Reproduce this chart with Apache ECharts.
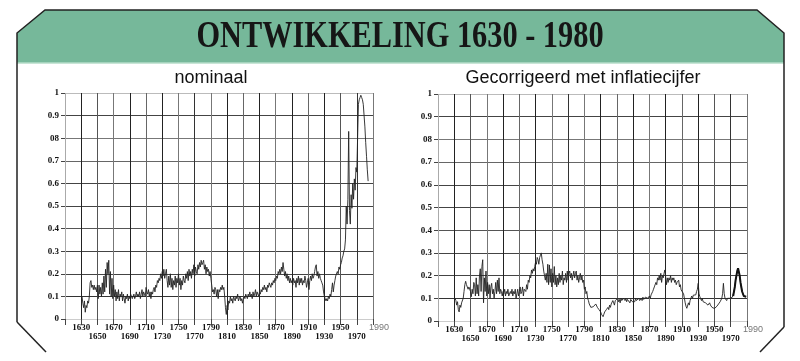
<!DOCTYPE html>
<html><head><meta charset="utf-8">
<script src="https://cdn.jsdelivr.net/npm/echarts@6/dist/echarts.min.js"></script>
<style>html,body{margin:0;padding:0;background:#fff}#c{width:800px;height:361px}</style>
</head><body><div id="c"></div>
<script>
// ---- data ----
const titleText = 'ONTWIKKELING 1630 - 1980';
const subLeft = 'nominaal';
const subRight = 'Gecorrigeerd met inflatiecijfer';
const yLabels = ['0','0.1','0.2','0.3','0.4','0.5','0.6','0.7','08','0.9','1'];
const xUpperLabels = [1630,1670,1710,1750,1790,1830,1870,1910,1950];
const xLowerLabels = [1650,1690,1730,1770,1810,1850,1890,1930,1970];
const xEndLabel = 1990;

const nomStart = 1631;
const nomValues = [
0.10,0.07,0.05,0.08,0.03,0.06,0.05,0.08,0.07,0.10,
0.16,0.17,0.14,0.15,0.13,0.15,0.13,0.14,0.12,0.15,
0.09,0.15,0.11,0.14,0.10,0.16,0.11,0.19,0.12,0.22,
0.14,0.25,0.20,0.26,0.11,0.21,0.10,0.18,0.09,0.15,
0.10,0.13,0.08,0.12,0.09,0.13,0.08,0.11,0.10,0.12,
0.08,0.11,0.09,0.07,0.10,0.09,0.11,0.08,0.10,0.09,
0.11,0.10,0.09,0.10,0.11,0.09,0.10,0.12,0.10,0.11,
0.10,0.12,0.09,0.11,0.13,0.10,0.12,0.11,0.10,0.14,
0.12,0.11,0.13,0.10,0.12,0.09,0.12,0.11,0.13,0.14,
0.12,0.15,0.14,0.17,0.16,0.18,0.17,0.20,0.18,0.21,
0.19,0.22,0.18,0.20,0.22,0.17,0.14,0.19,0.15,0.20,
0.14,0.18,0.13,0.17,0.15,0.19,0.14,0.18,0.16,0.20,
0.15,0.18,0.13,0.17,0.15,0.19,0.17,0.16,0.20,0.18,
0.21,0.17,0.22,0.19,0.21,0.18,0.22,0.20,0.24,0.19,
0.23,0.21,0.20,0.24,0.22,0.25,0.23,0.26,0.24,0.25,
0.26,0.22,0.24,0.20,0.23,0.21,0.22,0.19,0.21,0.18,
0.15,0.12,0.13,0.11,0.14,0.13,0.10,0.13,0.09,0.13,
0.12,0.14,0.13,0.15,0.13,0.14,0.10,0.05,0.02,0.06,
0.04,0.08,0.07,0.10,0.08,0.09,0.07,0.10,0.09,0.08,
0.10,0.09,0.11,0.08,0.09,0.10,0.08,0.09,0.07,0.09,
0.10,0.09,0.11,0.10,0.09,0.11,0.10,0.12,0.10,0.11,
0.09,0.12,0.10,0.11,0.13,0.10,0.12,0.11,0.10,0.12,
0.11,0.13,0.12,0.14,0.13,0.15,0.13,0.14,0.12,0.15,
0.14,0.16,0.15,0.14,0.16,0.15,0.17,0.16,0.18,0.17,
0.19,0.18,0.21,0.20,0.22,0.20,0.23,0.21,0.25,0.22,
0.19,0.21,0.18,0.20,0.17,0.19,0.16,0.18,0.16,0.17,
0.15,0.18,0.16,0.17,0.14,0.18,0.16,0.19,0.15,0.18,
0.16,0.18,0.15,0.17,0.16,0.19,0.17,0.14,0.16,0.18,
0.13,0.17,0.19,0.17,0.20,0.18,0.19,0.21,0.23,0.24,
0.19,0.21,0.18,0.20,0.18,0.17,0.16,0.15,0.12,0.10,
0.09,0.08,0.09,0.08,0.10,0.09,0.11,0.10,0.13,0.16,
0.12,0.15,0.17,0.19,0.19,0.21,0.20,0.23,0.22,0.24,
0.25,0.27,0.28,0.30,0.31,0.35,0.50,0.42,0.53,0.83,
0.48,0.42,0.55,0.49,0.60,0.53,0.62,0.57,0.67,0.65,
0.80,0.95,0.97,0.98,0.99,0.98,0.97,0.95,0.90,0.85,
0.78,0.72,0.66,0.61
];

const realStart = 1631;
const realValues = [
0.10,0.09,0.07,0.085,0.05,0.04,0.07,0.06,0.08,0.078,
0.10,0.13,0.16,0.175,0.16,0.15,0.14,0.15,0.144,0.13,
0.107,0.14,0.12,0.17,0.16,0.11,0.19,0.12,0.16,0.11,
0.20,0.23,0.13,0.24,0.27,0.08,0.19,0.13,0.22,0.11,
0.17,0.12,0.16,0.10,0.15,0.166,0.12,0.14,0.10,0.13,
0.17,0.12,0.18,0.13,0.19,0.12,0.14,0.13,0.11,0.13,
0.12,0.14,0.11,0.13,0.12,0.14,0.11,0.107,0.13,0.12,
0.14,0.11,0.13,0.12,0.14,0.10,0.12,0.14,0.11,0.13,
0.15,0.12,0.13,0.15,0.11,0.14,0.144,0.13,0.16,0.14,
0.18,0.17,0.20,0.19,0.225,0.21,0.23,0.22,0.24,0.26,
0.25,0.28,0.27,0.25,0.28,0.29,0.30,0.27,0.25,0.22,
0.20,0.18,0.21,0.17,0.25,0.16,0.247,0.17,0.23,0.15,
0.21,0.17,0.24,0.16,0.20,0.15,0.19,0.16,0.21,0.17,
0.20,0.18,0.22,0.16,0.19,0.18,0.21,0.17,0.22,0.18,
0.21,0.22,0.19,0.21,0.18,0.20,0.22,0.19,0.21,0.22,
0.18,0.20,0.17,0.19,0.21,0.18,0.20,0.17,0.18,0.14,
0.15,0.12,0.13,0.10,0.09,0.075,0.07,0.06,0.065,0.06,
0.063,0.07,0.06,0.075,0.07,0.06,0.065,0.05,0.056,0.04,
0.03,0.025,0.019,0.03,0.04,0.035,0.05,0.045,0.06,0.05,
0.07,0.06,0.075,0.07,0.09,0.08,0.07,0.09,0.085,0.09,
0.10,0.085,0.095,0.08,0.10,0.09,0.085,0.10,0.095,0.09,
0.10,0.085,0.095,0.09,0.10,0.08,0.095,0.09,0.085,0.09,
0.08,0.085,0.10,0.09,0.095,0.085,0.10,0.09,0.095,0.10,
0.09,0.105,0.095,0.10,0.105,0.10,0.11,0.10,0.105,0.11,
0.10,0.115,0.12,0.13,0.14,0.15,0.144,0.17,0.16,0.19,
0.18,0.20,0.18,0.21,0.17,0.20,0.19,0.21,0.225,0.23,
0.16,0.19,0.17,0.19,0.18,0.20,0.17,0.19,0.18,0.19,
0.17,0.18,0.16,0.17,0.166,0.18,0.15,0.16,0.137,0.144,
0.13,0.12,0.10,0.08,0.065,0.056,0.063,0.08,0.07,0.09,
0.10,0.11,0.10,0.114,0.11,0.12,0.115,0.13,0.14,0.166,
0.12,0.107,0.10,0.09,0.10,0.085,0.09,0.085,0.08,0.078,
0.085,0.07,0.075,0.08,0.07,0.065,0.06,0.056,0.06,0.055,
0.062,0.056,0.065,0.07,0.075,0.07,0.085,0.09,0.10,0.12,
0.166,0.12,0.10,0.095,0.09,0.10,0.095,0.10,0.10,0.105,
0.10,0.105,0.11,0.13,0.15,0.18,0.20,0.22,0.232,0.225,
0.20,0.17,0.15,0.13,0.12,0.11,0.115,0.105,0.107
];
const realThickFrom = 1973;

// ---- build ----
const toPairs = (start, vals) => vals.map((v, i) => [start + i, v]);
const nomData = toPairs(nomStart, nomValues);
const realData = toPairs(realStart, realValues);
const realThick = realData.filter(p => p[0] >= realThickFrom);

const vColors = ['#aaa','#222','#555','#777','#222','#666','#222','#777','#333','#777','#222','#666','#222','#777','#222','#666','#222','#555','#333','#777'];
const hColors = ['#ccc','#333','#444','#444','#555','#444','#444','#666','#777','#444','#bbb'];
const serif = '"Liberation Serif", "Times New Roman", serif';
const sans = '"Liberation Sans", Arial, sans-serif';

function xAxes(grid, upper) {
  const base = {
    type: 'value', gridIndex: grid, position: 'bottom', min: 1610, max: 1990, interval: 20,
    axisLine: { show: false }
  };
  if (upper) {
    return Object.assign({}, base, {
      axisTick: { show: true, length: 6, lineStyle: { color: '#444' } },
      splitLine: { show: true, lineStyle: { color: vColors, width: 1 } },
      axisLabel: {
        show: true, margin: 4, fontFamily: serif, fontWeight: 'bold', fontSize: 9, color: '#111',
        showMinLabel: true, showMaxLabel: true,
        formatter: v => v === xEndLabel ? '{g|' + v + '}' : (xUpperLabels.indexOf(v) >= 0 ? String(v) : ''),
        rich: { g: { fontFamily: sans, fontWeight: 'normal', fontSize: 9, color: '#777', padding: [0, 0, 0, 12] } }
      }
    });
  }
  return Object.assign({}, base, {
    axisTick: { show: false }, splitLine: { show: false },
    axisLabel: {
      show: true, margin: 13, fontFamily: serif, fontWeight: 'bold', fontSize: 9, color: '#111',
      formatter: v => xLowerLabels.indexOf(v) >= 0 ? String(v) : ''
    }
  });
}
function yAxis(grid) {
  return {
    type: 'value', gridIndex: grid, min: 0, max: 1, interval: 0.1,
    axisLine: { show: false },
    axisTick: { show: true, length: 4, lineStyle: { color: '#444' } },
    splitLine: { show: true, lineStyle: { color: hColors, width: 1 } },
    axisLabel: {
      margin: 6, fontFamily: serif, fontWeight: 'bold', fontSize: 9, color: '#111',
      formatter: v => yLabels[Math.round(v * 10)]
    }
  };
}

const chart = echarts.init(document.getElementById('c'), null, { renderer: 'canvas' });
chart.setOption({
  backgroundColor: '#fff',
  animation: false,
  grid: [
    { left: 65, right: 427, top: 93, bottom: 42 },
    { left: 438, right: 53, top: 94, bottom: 40 }
  ],
  xAxis: [xAxes(0, true), xAxes(0, false), xAxes(1, true), xAxes(1, false)],
  yAxis: [yAxis(0), yAxis(1)],
  series: [
    { type: 'line', xAxisIndex: 0, yAxisIndex: 0, data: nomData, showSymbol: false, symbol: 'none',
      lineStyle: { color: '#222', width: 0.9 } },
    { type: 'line', xAxisIndex: 2, yAxisIndex: 1, data: realData, showSymbol: false, symbol: 'none',
      lineStyle: { color: '#222', width: 0.9 } },
    { type: 'line', xAxisIndex: 2, yAxisIndex: 1, data: realThick, showSymbol: false, symbol: 'none',
      lineStyle: { color: '#111', width: 2 } }
  ],
  graphic: [
    { type: 'polygon', z: -1, shape: { points: [[17,33],[45,10],[757,10],[784,33],[784,63],[17,63]] },
      style: { fill: '#76b89a' } },
    { type: 'line', shape: { x1: 17, y1: 63, x2: 784, y2: 63 }, style: { stroke: '#b6dcc9', lineWidth: 1.5 } },
    { type: 'polyline', shape: { points: [[17,322],[17,33],[45,10],[757,10],[784,33],[784,327]] },
      style: { stroke: '#222', lineWidth: 1.5, fill: null } },
    { type: 'line', shape: { x1: 17, y1: 322, x2: 46, y2: 352 }, style: { stroke: '#222', lineWidth: 1.5 } },
    { type: 'line', shape: { x1: 784, y1: 327, x2: 760, y2: 352 }, style: { stroke: '#222', lineWidth: 1.5 } },
    { type: 'text', x: 400, y: 37, scaleX: 0.82,
      style: { text: titleText, font: 'bold 37px ' + serif, fill: '#161616', textAlign: 'center', textVerticalAlign: 'middle' } },
    { type: 'text', x: 211, y: 78,
      style: { text: subLeft, font: '18px ' + sans, fill: '#111', textAlign: 'center', textVerticalAlign: 'middle' } },
    { type: 'text', x: 583, y: 78,
      style: { text: subRight, font: '18px ' + sans, fill: '#111', textAlign: 'center', textVerticalAlign: 'middle' } }
  ]
});
</script>
</body></html>
